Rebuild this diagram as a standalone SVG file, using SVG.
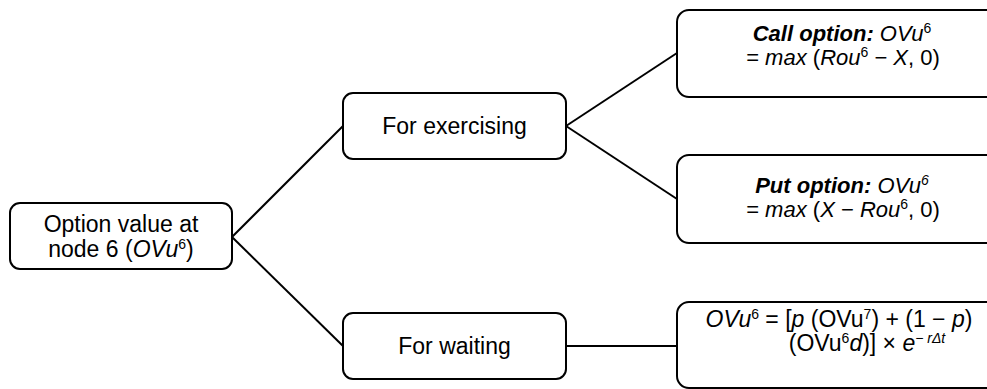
<svg xmlns="http://www.w3.org/2000/svg" width="987" height="389" viewBox="0 0 987 389">
<style>
.box{fill:#fff;stroke:#000;stroke-width:2}
.t{font-family:"Liberation Sans",Arial,sans-serif;font-size:22px;fill:#000}
.L{font-size:23px}
.m{text-anchor:middle}
.i{font-style:italic}
.bi{font-style:italic;font-weight:bold}
.s{font-size:14px}
.c line{stroke:#000;stroke-width:2}
</style>
<rect width="987" height="389" fill="#fff"/>
<g class="c" id="connectors">
<line x1="232" y1="237" x2="343" y2="126"/>
<line x1="232" y1="237" x2="343" y2="346"/>
<line x1="566" y1="126" x2="677" y2="53"/>
<line x1="566" y1="126" x2="677" y2="199"/>
<line x1="566" y1="346" x2="677" y2="346"/>
</g>
<g id="root">
<rect class="box" x="10" y="203" width="222" height="66" rx="10"/>
<text class="t L m" x="121" y="232">Option value at</text>
<text class="t L m" x="121" y="257">node 6 (<tspan class="i">OVu</tspan><tspan class="s" dy="-8">6</tspan><tspan dy="8">)</tspan></text>
</g>
<g id="exercising">
<rect class="box" x="343" y="93" width="223" height="66" rx="10"/>
<text class="t L m" x="454.5" y="134">For exercising</text>
</g>
<g id="waiting">
<rect class="box" x="343" y="313" width="223" height="66" rx="10"/>
<text class="t L m" x="454.5" y="354">For waiting</text>
</g>
<g id="call">
<rect class="box" x="677" y="10" width="330" height="87" rx="12"/>
<text class="t m" x="842" y="41"><tspan class="bi">Call option:</tspan> <tspan class="i">OVu</tspan><tspan class="s" dy="-8">6</tspan></text>
<text class="t m" x="843" y="65">= <tspan class="i">max</tspan> (<tspan class="i">Rou</tspan><tspan class="s" dy="-8">6</tspan><tspan dy="8"> − </tspan><tspan class="i">X</tspan>, 0)</text>
</g>
<g id="put">
<rect class="box" x="677" y="155" width="330" height="88" rx="12"/>
<text class="t m" x="842" y="193"><tspan class="bi">Put option:</tspan> <tspan class="i">OVu</tspan><tspan class="s i" dy="-8">6</tspan></text>
<text class="t m" x="843" y="217">= <tspan class="i">max</tspan> (<tspan class="i">X</tspan> − <tspan class="i">Rou</tspan><tspan class="s" dy="-8">6</tspan><tspan dy="8">, 0)</tspan></text>
</g>
<g id="formula">
<rect class="box" x="677" y="302" width="330" height="86" rx="12"/>
<text class="t L m" x="839" y="327"><tspan class="i">OVu</tspan><tspan class="s" dy="-8">6</tspan><tspan dy="8"> = [</tspan><tspan class="i">p</tspan> (OVu<tspan class="s" dy="-8">7</tspan><tspan dy="8">) + (1 − </tspan><tspan class="i">p</tspan>)</text>
<text class="t L m" x="867" y="351">(OVu<tspan class="s" dy="-8">6</tspan><tspan class="i" dy="8">d</tspan>)] × <tspan class="i">e</tspan><tspan class="s i" dy="-8">− rΔt</tspan></text>
</g>
</svg>
